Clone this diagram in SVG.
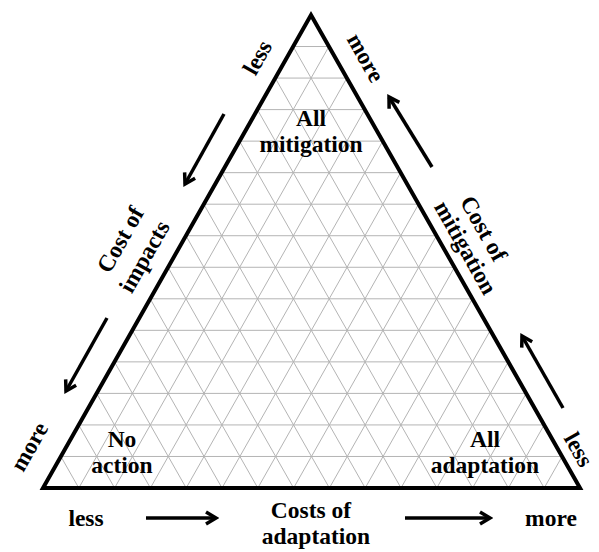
<svg xmlns="http://www.w3.org/2000/svg" width="599" height="552" viewBox="0 0 599 552">
<style>
.grid{stroke:#b4b4b4;stroke-width:1;fill:none}
.tri{stroke:#000;stroke-width:4;fill:none;stroke-linejoin:miter}
.arr{stroke:#000;stroke-width:3.5;fill:none;marker-end:url(#ah)}
text{font-family:"Liberation Serif","Times New Roman",serif;font-weight:bold;font-size:23.5px;fill:#000;text-anchor:middle}
</style>
<defs>
<marker id="ah" viewBox="0 0 16 16" refX="13" refY="8" markerWidth="16" markerHeight="16" orient="auto" markerUnits="userSpaceOnUse">
<path d="M3,2 L13,8 L3,14" stroke="#000" stroke-width="3.5" fill="none"/>
</marker>
</defs>
<rect width="599" height="552" fill="#fff"/>
<g id="grid">
<path class="grid" d="M293.13,46.53H328.93 M275.27,78.07H346.87 M257.40,109.60H364.80 M239.53,141.13H382.73 M221.67,172.67H400.67 M203.80,204.20H418.60 M185.93,235.73H436.53 M168.07,267.27H454.47 M150.20,298.80H472.40 M132.33,330.33H490.33 M114.47,361.87H508.27 M96.60,393.40H526.20 M78.73,424.93H544.13 M60.87,456.47H562.07"/>
<path class="grid" d="M293.13,46.53L544.2,488 M275.27,78.07L508.4,488 M257.40,109.60L472.6,488 M239.53,141.13L436.8,488 M221.67,172.67L401,488 M203.80,204.20L365.2,488 M185.93,235.73L329.4,488 M168.07,267.27L293.6,488 M150.20,298.80L257.8,488 M132.33,330.33L222,488 M114.47,361.87L186.2,488 M96.60,393.40L150.4,488 M78.73,424.93L114.6,488 M60.87,456.47L78.8,488"/>
<path class="grid" d="M328.93,46.53L78.8,488 M346.87,78.07L114.6,488 M364.80,109.60L150.4,488 M382.73,141.13L186.2,488 M400.67,172.67L222,488 M418.60,204.20L257.8,488 M436.53,235.73L293.6,488 M454.47,267.27L329.4,488 M472.40,298.80L365.2,488 M490.33,330.33L401,488 M508.27,361.87L436.8,488 M526.20,393.40L472.6,488 M544.13,424.93L508.4,488 M562.07,456.47L544.2,488"/>
</g>
<g id="triangle">
<path class="tri" d="M311,15 L580,488 L43,488 Z"/>
</g>
<g id="connectors">
<line class="arr" x1="224" y1="114" x2="185" y2="184"/>
<line class="arr" x1="107" y1="318" x2="66" y2="391"/>
<line class="arr" x1="432" y1="167" x2="389" y2="97"/>
<line class="arr" x1="563" y1="408" x2="522" y2="336"/>
<line class="arr" x1="146" y1="518" x2="216" y2="518"/>
<line class="arr" x1="405" y1="518" x2="490" y2="518"/>
</g>
<g id="all-mitigation">
<text x="311" y="126">All</text>
<text x="311" y="152">mitigation</text>
</g>
<g id="no-action">
<text x="122" y="447">No</text>
<text x="122" y="473">action</text>
</g>
<g id="all-adaptation">
<text x="485" y="447">All</text>
<text x="485" y="473">adaptation</text>
</g>
<g id="cost-impacts">
<text transform="translate(258,58) rotate(-60.5)" y="7">less</text>
<text transform="translate(121,240) rotate(-60.5)" y="7">Cost of</text>
<text transform="translate(145,257) rotate(-60.5)" y="7">impacts</text>
<text transform="translate(30,447) rotate(-60.5)" y="7">more</text>
</g>
<g id="cost-mitigation">
<text transform="translate(365,58) rotate(60.5)" y="7">more</text>
<text transform="translate(483,229) rotate(60.5)" y="7">Cost of</text>
<text transform="translate(465,248) rotate(60.5)" y="7">mitigation</text>
<text transform="translate(578,450) rotate(60.5)" y="7">less</text>
</g>
<g id="cost-adaptation">
<text x="86" y="526">less</text>
<text x="311" y="518">Costs of</text>
<text x="316" y="544">adaptation</text>
<text x="551" y="526">more</text>
</g>
</svg>
